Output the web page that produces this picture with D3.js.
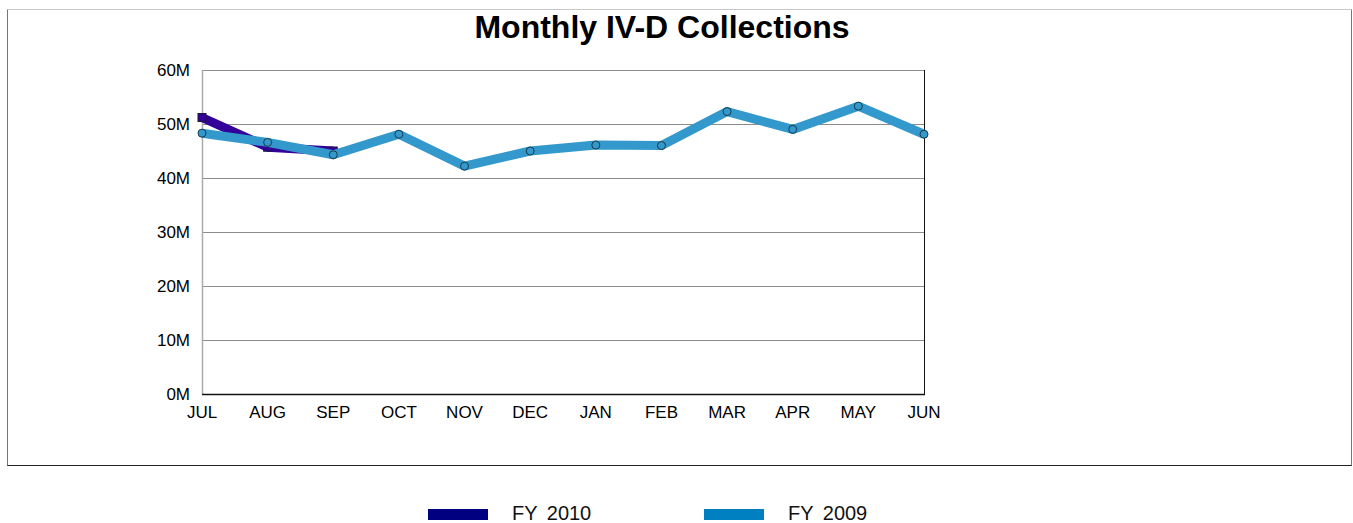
<!DOCTYPE html>
<html>
<head>
<meta charset="utf-8">
<script src="https://cdn.jsdelivr.net/npm/d3@7"></script>
<style>
  body { margin: 0; background: #fff; }
  svg { font-family: "Liberation Sans", Arial, sans-serif; }
</style>
</head>
<body>
<div id="chart"></div>
<script>
const months = ["JUL", "AUG", "SEP", "OCT", "NOV", "DEC", "JAN", "FEB", "MAR", "APR", "MAY", "JUN"];
const fy2010 = [51.2, 45.7, 45.0];
const fy2009 = [48.3, 46.6, 44.3, 48.1, 42.2, 45.0, 46.1, 46.0, 52.3, 49.0, 53.3, 48.1];
const yTicks = [0, 10, 20, 30, 40, 50, 60];

const width = 1353, height = 523;
const plot = { left: 202, right: 924, top: 70, bottom: 394 };

const svg = d3.select("#chart").append("svg").attr("width", width).attr("height", height);

// outer frame
svg.append("line").attr("x1", 7.5).attr("x2", 1351.5).attr("y1", 9.5).attr("y2", 9.5).attr("stroke", "#c8c8c8");
svg.append("line").attr("x1", 7.5).attr("x2", 7.5).attr("y1", 9.5).attr("y2", 466).attr("stroke", "#777");
svg.append("line").attr("x1", 1351.5).attr("x2", 1351.5).attr("y1", 9.5).attr("y2", 466).attr("stroke", "#777");
svg.append("line").attr("x1", 7.5).attr("x2", 1351.5).attr("y1", 465.5).attr("y2", 465.5).attr("stroke", "#222");

svg.append("text").attr("x", 662).attr("y", 38).attr("text-anchor", "middle")
  .attr("font-size", 32).attr("font-weight", "bold").text("Monthly IV-D Collections");

const x = d3.scalePoint().domain(months).range([plot.left, plot.right]);
const y = d3.scaleLinear().domain([0, 60]).range([plot.bottom, plot.top]);

// gridlines
svg.append("g").selectAll("line").data(yTicks.filter(d => d > 0)).join("line")
  .attr("x1", plot.left).attr("x2", plot.right)
  .attr("y1", d => Math.round(y(d)) + 0.5).attr("y2", d => Math.round(y(d)) + 0.5)
  .attr("stroke", "#8c8c8c");

// axes lines
svg.append("line").attr("x1", plot.left + 0.5).attr("x2", plot.left + 0.5)
  .attr("y1", plot.top).attr("y2", plot.bottom).attr("stroke", "#aaa").attr("stroke-width", 1.5);
svg.append("line").attr("x1", plot.right + 0.5).attr("x2", plot.right + 0.5)
  .attr("y1", plot.top).attr("y2", plot.bottom).attr("stroke", "#111");
svg.append("line").attr("x1", plot.left).attr("x2", plot.right + 1)
  .attr("y1", plot.bottom + 0.5).attr("y2", plot.bottom + 0.5).attr("stroke", "#111").attr("stroke-width", 1.5);

// tick labels
svg.append("g").selectAll("text").data(yTicks).join("text")
  .attr("x", 190).attr("y", d => y(d) + 6).attr("text-anchor", "end")
  .attr("font-size", 17).text(d => d + "M");
svg.append("g").selectAll("text").data(months).join("text")
  .attr("x", d => x(d)).attr("y", plot.bottom + 24).attr("text-anchor", "middle")
  .attr("font-size", 17).text(d => d);

const line = d3.line().x((d, i) => x(months[i])).y(d => y(d));

// FY 2010
svg.append("path").datum(fy2010).attr("d", line).attr("fill", "none")
  .attr("stroke", "#330099").attr("stroke-width", 9).attr("stroke-linejoin", "round");
svg.append("g").selectAll("rect").data(fy2010).join("rect")
  .attr("x", (d, i) => x(months[i]) - 4).attr("y", d => y(d) - 4)
  .attr("width", 8).attr("height", 8)
  .attr("fill", "#330099").attr("stroke", "#1a1a3a").attr("stroke-width", 1);

// FY 2009
svg.append("path").datum(fy2009).attr("d", line).attr("fill", "none")
  .attr("stroke", "#3399cc").attr("stroke-width", 9).attr("stroke-linejoin", "round");
svg.append("g").selectAll("circle").data(fy2009).join("circle")
  .attr("cx", (d, i) => x(months[i])).attr("cy", d => y(d)).attr("r", 4)
  .attr("fill", "#3399cc").attr("stroke", "#1a3a4a").attr("stroke-width", 1);

// legend
const legend = [
  { name: "FY 2010", color: "#000080", x: 428 },
  { name: "FY 2009", color: "#0080c0", x: 704 }
];
const lg = svg.append("g").selectAll("g").data(legend).join("g");
lg.append("rect").attr("x", d => d.x).attr("y", 509).attr("width", 60).attr("height", 11).attr("fill", d => d.color);
lg.append("text").attr("x", d => d.x + 84).attr("y", 520).attr("font-size", 20)
  .attr("word-spacing", 4).attr("fill", "#111").text(d => d.name);
</script>
</body>
</html>
